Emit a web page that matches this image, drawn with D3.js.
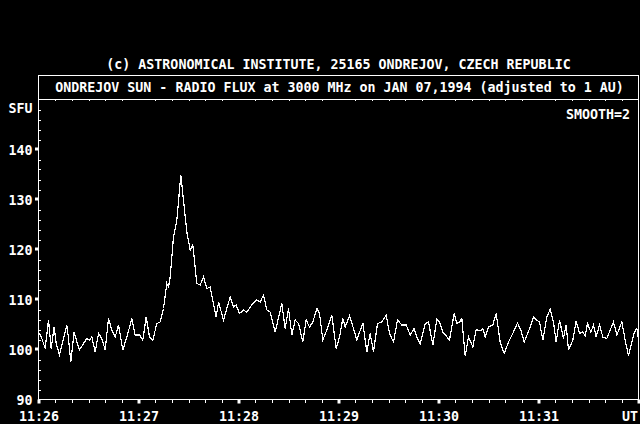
<!DOCTYPE html>
<html>
<head>
<meta charset="utf-8">
<script src="https://cdn.jsdelivr.net/npm/d3@7/dist/d3.min.js"></script>
<style>
  html, body { margin: 0; padding: 0; background: #000; }
  svg { display: block; }
  text { font-family: "DejaVu Sans Mono", "Liberation Mono", monospace; font-size: 13.3px; font-weight: bold; fill: #fff; }
</style>
</head>
<body>
<script>
// seconds after 11:26:00 UT, and flux in SFU
const seconds = [0.6, 2, 4, 6, 7.6, 9.4, 10.6, 12.6, 15, 17, 18, 19.4, 21.4, 23, 24.6, 27, 29, 30.6, 32, 34,
  36, 38, 40, 42, 44, 46, 48, 50.6, 53, 56, 58, 60.6, 62.6, 64.6, 66.6, 68.6, 71, 73, 75, 77,
  78, 79, 81, 83, 85.4, 87, 89, 91, 92.6, 95, 97, 99, 101, 103, 106.6, 108, 111, 113, 115, 117,
  118.6, 120.6, 123, 125, 128, 131, 133, 135, 137, 139, 142, 146, 148, 150, 152, 154, 156, 158.6, 160.6, 162.6,
  164.6, 167, 168.6, 170.6, 173, 176, 178.6, 180.6, 182.6, 184, 186.6, 189, 191, 194.6, 197, 199, 201, 203.4, 206, 208.6,
  210.6, 213, 215.4, 218, 220.6, 223, 225.4, 227, 229, 232, 234, 236.6, 239, 240.6, 242.6, 246.6, 249.4, 251, 252.6, 254,
  256, 258, 260.6, 262.6, 265, 266.6, 268, 270, 272.6, 274.6, 277, 279.4, 282, 285, 287.4, 289.4, 291.4, 295, 297, 298.6,
  300.6, 302.6, 305, 307, 309, 310.6, 312.6, 315, 316.6, 318, 320.6, 322.6, 324.6, 326.6, 328, 329.4, 331.4, 333, 334.6, 336.6,
  338.6, 341, 345, 347, 350, 352, 354, 356, 357.6, 359, 360];
const flux = [103.2, 102.2, 100.2, 105.9, 100.2, 104.5, 101.2, 98.9, 102.2, 104.9, 102.2, 97.5, 103.5, 101.5, 99.9, 101.2, 102.2, 101.9, 102.5, 99.5,
  103.2, 102.2, 99.9, 106.2, 103.9, 102.5, 104.9, 99.9, 102.5, 106.2, 102.9, 102.9, 101.9, 106.5, 102.5, 101.9, 105.2, 105.5, 108.2, 113.2,
  112.5, 114.5, 122.5, 125.9, 134.9, 129.9, 123.5, 119.9, 120.9, 113.2, 112.9, 114.5, 112.2, 112.5, 106.5, 109.5, 105.9, 108.2, 110.5, 108.5,
  108.9, 107.2, 107.9, 107.5, 108.9, 109.9, 109.5, 110.9, 107.9, 107.5, 103.5, 109.2, 104.2, 108.2, 102.9, 105.9, 105.2, 101.5, 105.9, 104.5,
  105.5, 108.2, 107.2, 101.9, 103.9, 106.9, 100.2, 102.5, 106.2, 104.5, 106.7, 104.2, 101.9, 105.3, 99.5, 103.2, 99.5, 105.2, 105.5, 106.9,
  103.2, 101.5, 105.9, 104.9, 104.9, 102.9, 104.2, 102.5, 101.2, 105.2, 105.5, 100.9, 106.0, 105.5, 103.5, 101.9, 107.2, 105.2, 105.5, 106.2,
  98.7, 102.5, 100.5, 104.0, 103.7, 104.2, 102.5, 104.5, 104.9, 107.2, 101.5, 99.2, 101.5, 103.5, 105.3, 103.9, 101.5, 104.5, 106.5, 105.9,
  105.5, 101.9, 106.5, 108.0, 105.5, 101.5, 105.9, 102.2, 104.9, 99.9, 101.9, 105.7, 103.2, 103.5, 102.7, 105.2, 103.5, 104.9, 102.5, 104.9,
  102.5, 102.2, 105.5, 102.9, 105.5, 101.9, 98.7, 101.5, 103.5, 104.2, 101.9];

const timeTicks = [0, 60, 120, 180, 240, 300, 360];
const timeLabels = ["11:26", "11:27", "11:28", "11:29", "11:30", "11:31", "UT"];
const fluxTicks = [90, 100, 110, 120, 130, 140];

const copyright = "(c) ASTRONOMICAL INSTITUTE, 25165 ONDREJOV, CZECH REPUBLIC";
const title = "ONDREJOV SUN - RADIO FLUX at 3000 MHz on JAN 07,1994 (adjusted to 1 AU)";
const smoothNote = "SMOOTH=2";

const w = 640;
const h = 424;
const plotLeft = 38.5;
const plotRight = 638.5;
const plotTop = 99.5;
const plotBottom = 399.5;

const svg = d3.select("body")
  .append("svg")
  .attr("width", w)
  .attr("height", h)
  .style("background", "#000");

const xScale = d3.scaleLinear().domain([0, 360]).range([plotLeft, plotRight]);
const yScale = d3.scaleLinear().domain([90, 150]).range([plotBottom, plotTop]);

// header texts
svg.append("text")
  .attr("x", (plotLeft + plotRight) / 2)
  .attr("y", 69)
  .attr("text-anchor", "middle")
  .text(copyright);

svg.append("rect")
  .attr("x", plotLeft).attr("y", 75.5)
  .attr("width", plotRight - plotLeft).attr("height", plotTop - 75.5)
  .attr("fill", "none").attr("stroke", "#fff").attr("shape-rendering", "crispEdges");

svg.append("text")
  .attr("x", (plotLeft + plotRight) / 2 + 1)
  .attr("y", 92)
  .attr("text-anchor", "middle")
  .text(title);

// plot frame
svg.append("rect")
  .attr("x", plotLeft).attr("y", plotTop)
  .attr("width", plotRight - plotLeft).attr("height", plotBottom - plotTop)
  .attr("fill", "none").attr("stroke", "#fff").attr("shape-rendering", "crispEdges");

// minor ticks every 10 s on the bottom and top edges
const minorX = d3.range(0, 361, 10).filter(s => s % 60 !== 0);
svg.selectAll(".xminor")
  .data(minorX)
  .enter()
  .append("line")
  .attr("x1", d => Math.round(xScale(d)) + 0.5)
  .attr("x2", d => Math.round(xScale(d)) + 0.5)
  .attr("y1", plotBottom)
  .attr("y2", plotBottom + 3)
  .attr("stroke", "#fff").attr("shape-rendering", "crispEdges");

svg.selectAll(".xtop")
  .data(minorX)
  .enter()
  .append("line")
  .attr("x1", d => Math.round(xScale(d)) + 0.5)
  .attr("x2", d => Math.round(xScale(d)) + 0.5)
  .attr("y1", plotTop)
  .attr("y2", plotTop + 1.5)
  .attr("stroke", "#fff").attr("shape-rendering", "crispEdges");

// bottom axis: labels + heavy major ticks
const xAxis = d3.axisBottom(xScale)
  .tickValues(timeTicks)
  .tickSize(0)
  .tickPadding(0)
  .tickFormat((d, i) => timeLabels[i]);

const gx = svg.append("g")
  .attr("transform", `translate(0, ${plotBottom})`)
  .call(xAxis);
gx.select(".domain").remove();
gx.selectAll("text")
  .attr("y", 21)
  .attr("dy", 0)
  .attr("fill", "#fff")
  .style("font-size", "13.3px")
  .style("font-family", "DejaVu Sans Mono, monospace");
gx.selectAll(".tick").filter(d => d === 360).select("text")
  .attr("text-anchor", "end")
  .attr("x", -1);
gx.selectAll(".tick")
  .append("rect")
  .attr("x", -1.5).attr("y", 0)
  .attr("width", 3).attr("height", 4)
  .attr("fill", "#fff");

// left axis: minor inner ticks every 2 SFU, square major marks, labels
const minorY = d3.range(92, 150, 2).filter(v => v % 10 !== 0);
svg.selectAll(".yminor")
  .data(minorY)
  .enter()
  .append("line")
  .attr("x1", plotLeft)
  .attr("x2", plotLeft + 2)
  .attr("y1", d => Math.round(yScale(d)) + 0.5)
  .attr("y2", d => Math.round(yScale(d)) + 0.5)
  .attr("stroke", "#fff").attr("shape-rendering", "crispEdges");

const yAxis = d3.axisLeft(yScale)
  .tickValues(fluxTicks)
  .tickSize(0)
  .tickPadding(6);

const gy = svg.append("g")
  .attr("transform", `translate(${plotLeft}, 0)`)
  .call(yAxis);
gy.select(".domain").remove();
gy.selectAll("text")
  .attr("x", -6)
  .attr("dy", 4.5)
  .attr("fill", "#fff")
  .style("font-size", "13.3px")
  .style("font-family", "DejaVu Sans Mono, monospace");
gy.selectAll(".tick")
  .filter(d => d !== 90)
  .append("rect")
  .attr("x", -3.5).attr("y", -2.5)
  .attr("width", 3).attr("height", 3)
  .attr("fill", "#fff");

svg.append("text")
  .attr("x", plotLeft - 6)
  .attr("y", 113)
  .attr("text-anchor", "end")
  .text("SFU");

svg.append("text")
  .attr("x", 630)
  .attr("y", 119)
  .attr("text-anchor", "end")
  .text(smoothNote);

// flux curve
const line = d3.line()
  .x((d, i) => xScale(seconds[i]))
  .y(d => yScale(d));

svg.append("path")
  .datum(flux)
  .attr("d", line)
  .attr("fill", "none")
  .attr("stroke", "#fff")
  .attr("stroke-width", 1.2)
  .attr("shape-rendering", "crispEdges");
</script>
</body>
</html>
